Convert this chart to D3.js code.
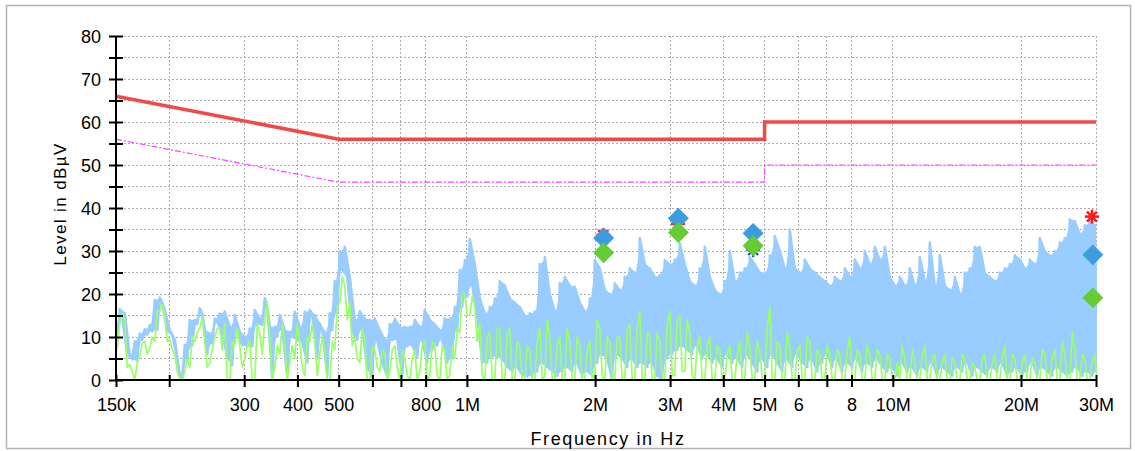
<!DOCTYPE html>
<html>
<head>
<meta charset="utf-8">
<script src="https://cdn.jsdelivr.net/npm/d3@7"></script>
<style>
	body { margin: 0; background: #fff; }
	svg { display: block; font-family: 'Liberation Sans', Arial, sans-serif; }
</style>
</head>
<body>
<div id="chart"></div>
<script>
/***********************************************************
  Start: Data
***********************************************************/
// Sweep runs 150 kHz .. 30 MHz, evenly spaced in log frequency, one reading per step
var freqStart = 150e3;
var freqStop = 30e6;

// Peak detector (light blue): highest / lowest level within each sweep step, dBuV
var peakHi = [12, 16.5, 15.5, 5.8, 9, 10.8, 11.8, 12.8, 18.6, 19.2,
	16.3, 11.6, 9.3, 1, 8.2, 14, 14, 16.7, 11.6, 10.8,
	14.3, 15.5, 15.9, 12.4, 15.1, 11.2, 10.1, 12, 16.3, 14.3,
	19, 12.4, 12.4, 15.1, 11.6, 11.2, 15.9, 12.4, 15.9, 16.3,
	15, 13, 11, 15.5, 23, 30, 31, 24, 14, 16,
	14.3, 14, 14.3, 11.6, 9.3, 13, 14.3, 12.4, 12.4, 12.4,
	14, 12.4, 16.3, 14, 13, 11.6, 14.3, 14.3, 17, 25.6,
	27.9, 32.8, 27, 19, 15.5, 17, 19, 23, 22, 19,
	18, 17, 15, 15.5, 16, 27, 28.6, 20, 16, 22.5,
	24, 22, 21.7, 18, 16, 19, 27.9, 26, 21, 20,
	22.5, 21, 24, 26, 25, 33, 27, 26, 24, 24.5,
	27.9, 27, 28, 31.8, 27, 23, 22, 26, 31, 24,
	21, 20, 23, 30, 23, 25, 26, 28.6, 27, 25,
	25, 29, 33.5, 30, 26, 35, 26, 25, 28, 26,
	25, 24, 23, 22, 24, 23, 26, 24, 28, 26,
	30, 27, 31, 28, 31, 24, 22, 24, 22, 26,
	22, 28.6, 23, 32, 22, 29, 22, 21, 24, 20,
	25, 26, 31, 31, 25, 24, 23, 25, 26, 27,
	29, 28, 26, 28, 27, 33, 30, 29, 30, 32,
	33, 37.4, 37, 34, 36, 37, 36];
var peakLo = [8, 14.5, 5.8, 4.8, 4.5, 9.3, 10.5, 11.3, 11.6, 18,
	11.2, 10.5, 5, 0, 4.7, 8, 13, 15.5, 6, 8.5,
	13.5, 10.8, 5.4, 3.5, 11.6, 8.1, 7.8, 7.8, 12.8, 12.8,
	17, 0.4, 10.1, 11.6, 0.8, 10, 9.3, 8.9, 4, 15,
	5, 11.6, 1, 11.6, 15.5, 25.6, 24, 11, 9.3, 11.6,
	3.1, 0.8, 9, 4, 0.8, 9.3, 9.3, 1, 7.8, 8,
	5.4, 9.3, 4, 7, 8, 9.3, 4, 5, 11.6, 17,
	19.4, 22, 14.8, 4, 4, 5.4, 5.4, 5, 3, 2,
	3, 1, 0.8, 1, 2, 4, 3, 2, 1, 2,
	3, 2, 4, 1, 2, 1, 4, 6, 5, 0,
	6, 5, 3, 5, 3, 4, 3, 4, 1, 0,
	5, 6, 7, 8, 7, 6, 8, 5, 6, 4,
	5, 3, 6, 4, 5, 3, 6, 4, 2, 5,
	3, 6, 4, 2, 5, 3, 6, 4, 3, 5,
	2, 4, 6, 3, 5, 2, 4, 3, 5, 2,
	4, 3, 5, 3, 2, 3, 1, 4, 2, 3,
	1, 3, 2, 4, 1, 3, 2, 1, 3, 2,
	4, 1, 3, 2, 1, 3, 2, 4, 1, 2,
	3, 1, 2, 4, 1, 3, 2, 1, 3, 2,
	1, 2, 3, 1, 2, 1, 2];

// Average detector (light green)
var avgHi = [8, 15.5, 14, 3.6, 4, 8.5, 9, 10, 16, 17.6,
	15, 9.5, 6, 0.5, 5, 10, 11, 14.5, 9, 7,
	12, 12, 13, 9, 12, 8, 8, 9, 13, 11,
	18, 10, 8, 13, 8, 8, 13, 9, 10, 13,
	9, 10, 7, 9, 17, 24, 22, 18, 10, 12,
	9, 8, 7, 7, 6, 7, 8, 7, 5, 5,
	7, 8, 9, 9, 8, 8, 7, 8, 12, 20,
	20, 19.4, 17, 13, 10, 11, 12, 12, 11, 12,
	9, 8, 8, 7, 9, 12, 14, 10, 8, 10,
	12, 9, 10, 8, 7, 9, 14, 12, 10, 9,
	10, 10, 12, 13, 12, 16, 11, 10, 11, 9,
	13, 16, 14, 15, 14, 11, 8, 10, 8, 10,
	8, 7, 6, 8, 6, 9, 11, 8, 9, 7,
	12, 17, 9, 8, 11, 8, 7, 8, 10, 9,
	7, 6, 8, 6, 7, 6, 7, 10, 7, 6,
	8, 6, 7, 6, 6, 5, 4, 8, 5, 7,
	4, 6, 8, 5, 6, 4, 6, 5, 4, 6,
	5, 4, 3, 5, 6, 4, 6, 5, 8, 6,
	5, 4, 6, 5, 4, 7, 6, 5, 7, 9,
	6, 11, 7, 6, 5, 4, 6];
var avgLo = [5, 13, 3, 2, 0, 5.5, 6, 7.5, 9, 16,
	9, 7, 2, 0, 2, 3, 9, 12, 3, 4,
	10, 7, 0, 0, 8, 3, 5, 0, 0, 6,
	14, 0, 3, 6, 0, 4, 5, 3, 1, 9,
	1, 6, 0, 0, 7, 18, 14, 8, 5, 4,
	0, 0, 3, 2, 0, 2, 3, 0, 1, 0,
	0, 2, 0, 1, 1, 0, 0, 1, 5, 11,
	15, 15, 9, 1, 0, 0, 0, 0, 0, 0,
	0, 0, 0, 0, 0, 0, 1, 0, 0, 0,
	0, 0, 0, 0, 0, 0, 1, 1, 0, 0,
	0, 0, 0, 0, 0, 0, 0, 0, 0, 0,
	0, 1, 1, 2, 2, 1, 0, 0, 0, 0,
	0, 0, 0, 0, 0, 0, 0, 0, 0, 0,
	0, 0, 0, 0, 0, 0, 0, 0, 0, 0,
	0, 0, 0, 0, 0, 0, 0, 0, 0, 0,
	0, 0, 0, 0, 0, 0, 0, 0, 0, 0,
	0, 0, 0, 0, 0, 0, 0, 0, 0, 0,
	0, 0, 0, 0, 0, 0, 0, 0, 0, 0,
	0, 0, 0, 0, 0, 0, 0, 0, 0, 0,
	0, 0, 0, 0, 0, 0, 0];

// Limit lines (EN 55022 class B)
var limitFreq = [150e3, 500e3, 5e6, 5e6, 30e6];
var qpLimit = [66, 56, 56, 60, 60];
var avLimit = [56, 46, 46, 50, 50];

// Final measurement markers
var qpMarkFreq = [2.095e6, 3.137e6, 4.70e6, 29.5e6];
var qpMarkLevel = [33.0, 37.6, 34.1, 29.1];
var avMarkFreq = [2.095e6, 3.137e6, 4.70e6, 29.5e6];
var avMarkLevel = [29.6, 34.3, 31.2, 19.1];
var critFreq = [2.09e6, 3.13e6, 29.35e6];
var critLevel = [33.7, 36.3, 38.0];
var critAvFreq = [4.70e6];
var critAvLevel = [30.2];

// Axes
var xTicks = [150e3, 200e3, 300e3, 400e3, 500e3, 600e3, 700e3, 800e3, 1e6,
	2e6, 3e6, 4e6, 5e6, 6e6, 7e6, 8e6, 10e6, 20e6, 30e6];
var xTickLabels = {150e3: '150k', 300e3: '300', 400e3: '400', 500e3: '500', 800e3: '800',
	1e6: '1M', 2e6: '2M', 3e6: '3M', 4e6: '4M', 5e6: '5M', 6e6: '6', 8e6: '8',
	10e6: '10M', 20e6: '20M', 30e6: '30M'};
var yTicks = [0, 5, 10, 15, 20, 25, 30, 35, 40, 45, 50, 55, 60, 65, 70, 75, 80];
var yTickLabels = [0, 10, 20, 30, 40, 50, 60, 70, 80];
/***********************************************************
  End: Data
***********************************************************/

var width = 1135;
var height = 451;
var margin = { top: 36, right: 39, bottom: 71, left: 116 };

var svg = d3.select('#chart').append('svg')
	.attr('width', width)
	.attr('height', height);

// Panel frame
svg.append('rect')
	.attr('x', 0).attr('y', 0).attr('width', width).attr('height', height)
	.attr('fill', '#fff');
svg.append('rect')
	.attr('x', 6.5).attr('y', 5.5).attr('width', 1124).attr('height', 443)
	.attr('fill', '#fff')
	.attr('stroke', '#b4b4b4')
	.attr('stroke-width', 1.5);

var x = d3.scaleLog().domain([freqStart, freqStop]).range([margin.left, width - margin.right]);
var y = d3.scaleLinear().domain([0, 80]).range([height - margin.bottom, margin.top]);

/***********************************************************
  Start: Grid
***********************************************************/
var grid = svg.append('g').attr('class', 'grid');
grid.selectAll('line.v')
	.data(xTicks.slice(1))
	.enter().append('line')
	.attr('x1', d => x(d)).attr('x2', d => x(d))
	.attr('y1', y(80)).attr('y2', y(0));
grid.selectAll('line.h')
	.data(yTicks.slice(1))
	.enter().append('line')
	.attr('x1', x(freqStart)).attr('x2', x(freqStop))
	.attr('y1', d => y(d)).attr('y2', d => y(d));
grid.selectAll('line')
	.attr('stroke', '#ababab')
	.attr('stroke-width', 1)
	.attr('stroke-dasharray', '2,2')
	.attr('shape-rendering', 'crispEdges');
/***********************************************************
  End: Grid
***********************************************************/

// Limit lines
var limitLine = d3.line()
	.x(d => x(d[0]))
	.y(d => y(d[1]));
svg.append('path')
	.datum(limitFreq.map((f, i) => [f, avLimit[i]]))
	.attr('d', limitLine)
	.attr('fill', 'none')
	.attr('stroke', '#ff44ff')
	.attr('stroke-width', 1.2)
	.attr('stroke-dasharray', '6,2,2,2');
svg.append('path')
	.datum(limitFreq.map((f, i) => [f, qpLimit[i]]))
	.attr('d', limitLine)
	.attr('fill', 'none')
	.attr('stroke', '#f44848')
	.attr('stroke-width', 3.5);

/***********************************************************
  Start: Traces
***********************************************************/
var sweepFreq = peakHi.map((_, i) => freqStart * Math.pow(freqStop / freqStart, i / (peakHi.length - 1)));

// Each sweep step draws its high and low reading. "alternate" keeps the hi/lo order fixed
// (dense sawtooth), otherwise the order follows on from the previous point.
function tracePoints(hi, lo, alternate) {
	var pts = [];
	var prev = lo[0];
	sweepFreq.forEach(function(f, i) {
		var cx = x(f);
		var pair;
		if (alternate) {
			pair = [hi[i], lo[i]];
		} else {
			pair = Math.abs(prev - hi[i]) < Math.abs(prev - lo[i]) ? [hi[i], lo[i]] : [lo[i], hi[i]];
		}
		pts.push([cx - 1.25, y(pair[0])], [cx + 1.25, y(pair[1])]);
		prev = pair[1];
	});
	return pts;
}

svg.append('clipPath').attr('id', 'plotClip')
	.append('rect')
	.attr('x', x(freqStart)).attr('y', y(80))
	.attr('width', x(freqStop) - x(freqStart) + 1).attr('height', y(0) - y(80));

// Band between the low and high readings, so the busy part reads as a solid sweep
var band = d3.area()
	.x((d, i) => x(sweepFreq[i]))
	.y0(d => y(d[1]))
	.y1(d => y(d[0]));
svg.append('path')
	.datum(peakHi.map((h, i) => [h, peakLo[i]]))
	.attr('d', band)
	.attr('clip-path', 'url(#plotClip)')
	.attr('fill', '#99ccff');
svg.append('path')
	.datum(tracePoints(peakHi, peakLo, true))
	.attr('d', d3.line())
	.attr('clip-path', 'url(#plotClip)')
	.attr('fill', 'none')
	.attr('stroke', '#99ccff')
	.attr('stroke-width', 2.5)
	.attr('stroke-linejoin', 'round');
svg.append('path')
	.datum(tracePoints(avgHi, avgLo, false))
	.attr('d', d3.line())
	.attr('clip-path', 'url(#plotClip)')
	.attr('fill', 'none')
	.attr('stroke', '#99ff66')
	.attr('stroke-width', 1.7)
	.attr('stroke-linejoin', 'round');
/***********************************************************
  End: Traces
***********************************************************/

/***********************************************************
  Start: Axes
***********************************************************/
var yAxis = svg.append('g')
	.attr('transform', 'translate(' + x(freqStart) + ',0)')
	.call(d3.axisLeft(y).tickValues(yTicks).tickSize(7)
		.tickFormat(d => yTickLabels.indexOf(d) >= 0 ? d : ''));
yAxis.attr('font-family', null);
yAxis.select('.domain').attr('stroke', '#000').attr('stroke-width', 2).attr('d', 'M0,' + y(0) + 'V' + y(80));
yAxis.selectAll('.tick line').attr('x1', 7).attr('x2', -7).attr('stroke', '#000').attr('stroke-width', 2);
yAxis.selectAll('.tick text')
	.attr('x', -15)
	.attr('dy', '0.36em')
	.style('font-size', '18px')
	.attr('fill', '#000');

var xAxis = svg.append('g')
	.attr('transform', 'translate(0,' + y(0) + ')')
	.call(d3.axisBottom(x).tickValues(xTicks).tickSize(7)
		.tickFormat(d => xTickLabels[d] || ''));
xAxis.attr('font-family', null);
xAxis.select('.domain').attr('stroke', '#000').attr('stroke-width', 2).attr('d', 'M' + x(freqStart) + ',0H' + x(freqStop));
xAxis.selectAll('.tick line').attr('y1', -5).attr('y2', 7).attr('stroke', '#000').attr('stroke-width', 2);
xAxis.selectAll('.tick text')
	.attr('y', 31)
	.attr('dy', 0)
	.style('font-size', '18px')
	.attr('fill', '#000');

// Axis titles
svg.append('text')
	.text('Level in dBµV')
	.attr('transform', 'translate(66,' + 204 + ') rotate(-90)')
	.style('text-anchor', 'middle')
	.style('font-size', '17px')
	.style('letter-spacing', '1.4px');
svg.append('text')
	.text('Frequency in Hz')
	.attr('x', 608)
	.attr('y', 445)
	.style('text-anchor', 'middle')
	.style('font-size', '18px')
	.style('letter-spacing', '1.6px');
/***********************************************************
  End: Axes
***********************************************************/

/***********************************************************
  Start: Markers
***********************************************************/
function asterisk(g, cx, cy, r, color, w) {
	[0, 45, 90, 135].forEach(function(a) {
		var rad = a * Math.PI / 180;
		g.append('line')
			.attr('x1', cx - r * Math.cos(rad)).attr('y1', cy - r * Math.sin(rad))
			.attr('x2', cx + r * Math.cos(rad)).attr('y2', cy + r * Math.sin(rad))
			.attr('stroke', color).attr('stroke-width', w);
	});
}
var marks = svg.append('g');
critFreq.forEach(function(f, i) {
	asterisk(marks, x(f), y(critLevel[i]), 7, '#ff1a1a', 2.6);
});
critAvFreq.forEach(function(f, i) {
	asterisk(marks, x(f), y(critAvLevel[i]), 7, '#1f3fe0', 2.2);
});
var diamond = d3.symbol().type(d3.symbolSquare).size(220);
marks.selectAll('path.qp')
	.data(qpMarkFreq)
	.enter().append('path')
	.attr('d', diamond)
	.attr('transform', (d, i) => 'translate(' + x(d) + ',' + y(qpMarkLevel[i]) + ') rotate(45)')
	.attr('fill', '#3d9be0');
marks.selectAll('path.av')
	.data(avMarkFreq)
	.enter().append('path')
	.attr('d', diamond)
	.attr('transform', (d, i) => 'translate(' + x(d) + ',' + y(avMarkLevel[i]) + ') rotate(45)')
	.attr('fill', '#66cc33');
/***********************************************************
  End: Markers
***********************************************************/
</script>
</body>
</html>
